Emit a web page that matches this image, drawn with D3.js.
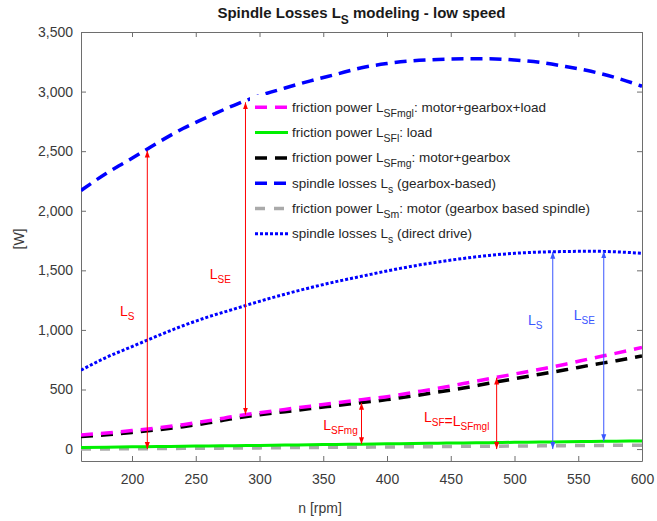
<!DOCTYPE html>
<html>
<head>
<meta charset="utf-8">
<script src="https://cdn.jsdelivr.net/npm/d3@7"></script>
<style>
body { margin: 0; background: #fff; }
text { font-family: "Liberation Sans", Arial, sans-serif; }
</style>
</head>
<body>
<div id="chart"></div>
<script>
// values, rpm every 20
var rpm = [160, 180, 200, 220, 240, 260, 280, 300, 320, 340, 360, 380, 400, 420, 440, 460, 480, 500, 520, 540, 560, 580, 600];
var lsGearbox = [2170, 2315, 2440, 2570, 2690, 2790, 2885, 2965, 3030, 3090, 3145, 3200, 3235, 3258, 3270, 3275, 3275, 3265, 3245, 3210, 3170, 3115, 3045];
var lsDirect = [662, 770, 860, 950, 1035, 1110, 1175, 1240, 1300, 1355, 1405, 1450, 1495, 1535, 1570, 1600, 1625, 1643, 1653, 1658, 1660, 1655, 1643];
var sfMgl = [118, 135, 155, 178, 205, 238, 275, 305, 333, 360, 388, 415, 440, 475, 510, 550, 590, 630, 670, 712, 760, 805, 853];
var sfMg = [105, 120, 140, 162, 188, 220, 258, 288, 314, 340, 365, 390, 415, 445, 478, 512, 552, 590, 628, 665, 705, 742, 782];
var sfL = [14, 16, 19, 21, 24, 26, 29, 31, 34, 36, 39, 41, 44, 46, 49, 52, 54, 57, 59, 62, 64, 66, 68];
var sm = [0, 1, 3, 4, 6, 7, 9, 10, 12, 13, 15, 16, 18, 19, 21, 23, 24, 26, 27, 29, 30, 32, 33];

var xTicks = [200, 250, 300, 350, 400, 450, 500, 550, 600];
var yTicks = [0, 500, 1000, 1500, 2000, 2500, 3000, 3500];

// legend texts: [before, subscript, after]
var legendLabels = [
    ["friction power L", "SFmgl", ": motor+gearbox+load"],
    ["friction power L", "SFl", ": load"],
    ["friction power L", "SFmg", ": motor+gearbox"],
    ["spindle losses L", "s", " (gearbox-based)"],
    ["friction power L", "Sm", ": motor (gearbox based spindle)"],
    ["spindle losses L", "s", " (direct drive)"]
];

// arrows: rpm, from value, to value
var arrows = [
    { n: 212, from: 0, to: 2505, c: "red" },
    { n: 289, from: 290, to: 2910, c: "red" },
    { n: 380, from: 41, to: 388, c: "red" },
    { n: 486, from: 0, to: 600, c: "red" },
    { n: 530, from: 0, to: 1655, c: "blue" },
    { n: 570, from: 65, to: 1660, c: "blue" }
];
var arrowLabels = [
    { n: 190.5, v: 1115, c: "red", parts: [["L", "S"]] },
    { n: 261, v: 1425, c: "red", parts: [["L", "SE"]] },
    { n: 350, v: 160, c: "red", parts: [["L", "SFmg"]] },
    { n: 429, v: 226, c: "red", parts: [["L", "SF"], ["=L", "SFmgl"]] },
    { n: 510.5, v: 1040, c: "blue", parts: [["L", "S"]] },
    { n: 546.5, v: 1082, c: "blue", parts: [["L", "SE"]] }
];

var colors = { red: "#ff0000", blue: "#3a56ff" };

var W = 657, H = 521,
    margin = { top: 32, right: 15, bottom: 60, left: 81 },
    width = W - margin.left - margin.right,
    height = H - margin.top - margin.bottom;

var svg = d3.select("#chart").append("svg")
    .attr("width", W)
    .attr("height", H);

svg.append("rect").attr("width", W).attr("height", H).attr("fill", "#fff");

var g = svg.append("g").attr("transform", "translate(" + margin.left + "," + margin.top + ")");

var x = d3.scaleLinear().domain([160, 600]).range([0, width]),
    y = d3.scaleLinear().domain([-100, 3500]).range([height, 0]);

var defs = svg.append("defs");
defs.append("clipPath").attr("id", "plot")
    .append("rect").attr("width", width).attr("height", height);

Object.keys(colors).forEach(function (k) {
    defs.append("marker")
        .attr("id", "head-" + k)
        .attr("viewBox", "0 -3 7 6")
        .attr("refX", 7).attr("refY", 0)
        .attr("markerUnits", "userSpaceOnUse")
        .attr("markerWidth", 7).attr("markerHeight", 6)
        .attr("orient", "auto-start-reverse")
        .append("path")
        .attr("d", "M0,-2.5L7,0L0,2.5Z")
        .attr("fill", colors[k]);
});

// axes, ticks inside on all four sides
var axisColor = "#6e6e6e";
function styleAxis(sel) {
    sel.selectAll(".domain").attr("stroke", axisColor);
    sel.selectAll(".tick line").attr("stroke", axisColor);
    sel.selectAll(".tick text").attr("fill", "#3a3a3a").style("font-size", "14px");
}

g.append("g").attr("transform", "translate(0," + height + ")")
    .call(d3.axisBottom(x).tickValues(xTicks).tickSizeInner(-5).tickSizeOuter(0).tickPadding(13))
    .call(styleAxis);
g.append("g")
    .call(d3.axisTop(x).tickValues(xTicks).tickSizeInner(-5).tickSizeOuter(0).tickFormat(""))
    .call(styleAxis);
g.append("g")
    .call(d3.axisLeft(y).tickValues(yTicks).tickSizeInner(-5).tickSizeOuter(0).tickPadding(8).tickFormat(d3.format(",")))
    .call(styleAxis);
g.append("g").attr("transform", "translate(" + width + ",0)")
    .call(d3.axisRight(y).tickValues(yTicks).tickSizeInner(-5).tickSizeOuter(0).tickFormat(""))
    .call(styleAxis);

var series = [
    { values: sm, color: "#aaaaaa", dash: "10,9", w: 3.5 },
    { values: sfL, color: "#00f000", dash: null, w: 3 },
    { values: sfMg, color: "#000000", dash: "12,8", w: 3.5 },
    { values: sfMgl, color: "#ff00ff", dash: "12,8", w: 3.5 },
    { values: lsGearbox, color: "#0000ff", dash: "12,7", w: 3.5 },
    { values: lsDirect, color: "#0000ff", dash: "3,2", w: 3 }
];
// legend order differs from draw order
var legendOrder = [3, 1, 2, 4, 0, 5];

var line = d3.line()
    .x(function (d, i) { return x(rpm[i]); })
    .y(function (d) { return y(d); })
    .curve(d3.curveMonotoneX);

var lines = g.append("g").attr("clip-path", "url(#plot)");
series.forEach(function (s) {
    lines.append("path")
        .datum(s.values)
        .attr("d", line)
        .attr("fill", "none")
        .attr("stroke", s.color)
        .attr("stroke-width", s.w)
        .attr("stroke-dasharray", s.dash);
});

// arrows
arrows.forEach(function (a) {
    g.append("line")
        .attr("x1", x(a.n)).attr("x2", x(a.n))
        .attr("y1", y(a.from)).attr("y2", y(a.to))
        .attr("stroke", colors[a.c])
        .attr("stroke-width", 1)
        .attr("marker-start", "url(#head-" + a.c + ")")
        .attr("marker-end", "url(#head-" + a.c + ")");
});

arrowLabels.forEach(function (l) {
    var t = g.append("text")
        .attr("x", x(l.n)).attr("y", y(l.v))
        .attr("fill", colors[l.c])
        .style("font-size", "14px");
    l.parts.forEach(function (p) {
        t.append("tspan").text(p[0]);
        t.append("tspan").attr("dy", 4).style("font-size", "10px").text(p[1]);
        t.append("tspan").attr("dy", -4).text("");
    });
});

// legend
var lg = svg.append("g");
lg.append("rect")
    .attr("x", 250).attr("y", 95)
    .attr("width", 352).attr("height", 154)
    .attr("fill", "#fff");

legendOrder.forEach(function (si, i) {
    var s = series[si], lab = legendLabels[i], yy = 107.3 + i * 25.3;
    lg.append("line")
        .attr("x1", 255).attr("x2", 288)
        .attr("y1", yy).attr("y2", yy)
        .attr("stroke", s.color)
        .attr("stroke-width", s.w)
        .attr("stroke-dasharray", s.dash);
    var t = lg.append("text")
        .attr("x", 292).attr("y", yy + 4.5)
        .attr("fill", "#262626")
        .style("font-size", "13.5px");
    t.append("tspan").text(lab[0]);
    t.append("tspan").attr("dy", 5).style("font-size", "10.5px").text(lab[1]);
    t.append("tspan").attr("dy", -5).text(lab[2]);
});

// title and axis labels
var title = svg.append("text")
    .attr("x", margin.left + width / 2).attr("y", 18)
    .attr("text-anchor", "middle")
    .attr("fill", "#1a1a1a")
    .style("font-size", "15px")
    .style("font-weight", "bold");
title.append("tspan").text("Spindle Losses L");
title.append("tspan").attr("dy", 6).style("font-size", "12px").text("S");
title.append("tspan").attr("dy", -6).text(" modeling - low speed");

svg.append("text")
    .attr("x", 320).attr("y", 513)
    .attr("text-anchor", "middle")
    .attr("fill", "#3a3a3a")
    .style("font-size", "14px")
    .text("n [rpm]");

svg.append("text")
    .attr("transform", "translate(24,239) rotate(-90)")
    .attr("text-anchor", "middle")
    .attr("fill", "#3a3a3a")
    .style("font-size", "14px")
    .text("[W]");
</script>
</body>
</html>
